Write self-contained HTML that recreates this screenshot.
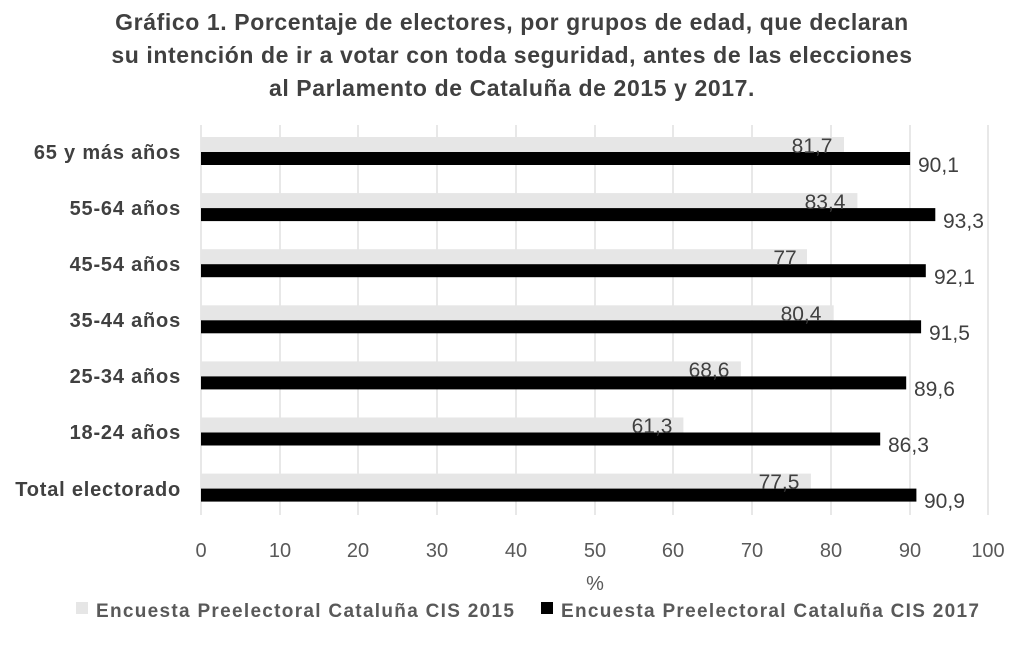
<!DOCTYPE html><html><head><meta charset="utf-8"><style>body{margin:0;background:#fff}svg{display:block}</style></head><body>
<svg width="1024" height="654" xmlns="http://www.w3.org/2000/svg" font-family="Liberation Sans, sans-serif">
<rect width="1024" height="654" fill="#fff"/>
<g font-weight="bold" font-size="23" fill="#404040" text-anchor="middle" letter-spacing="0.6">
<text x="512" y="30">Gráfico 1. Porcentaje de electores, por grupos de edad, que declaran</text>
<text x="512" y="63">su intención de ir a votar con toda seguridad, antes de las elecciones</text>
<text x="512" y="96">al Parlamento de Cataluña de 2015 y 2017.</text>
</g>
<g stroke="#d9d9d9" stroke-width="1.2">
<line x1="201" y1="125" x2="201" y2="515"/><line x1="280" y1="125" x2="280" y2="515"/><line x1="358" y1="125" x2="358" y2="515"/><line x1="437" y1="125" x2="437" y2="515"/><line x1="516" y1="125" x2="516" y2="515"/><line x1="595" y1="125" x2="595" y2="515"/><line x1="673" y1="125" x2="673" y2="515"/><line x1="752" y1="125" x2="752" y2="515"/><line x1="831" y1="125" x2="831" y2="515"/><line x1="910" y1="125" x2="910" y2="515"/><line x1="988" y1="125" x2="988" y2="515"/>
</g>
<g>
<rect x="201" y="137" width="643" height="15" fill="#e6e6e6"/><rect x="201" y="152" width="709.1" height="13" fill="#000"/>
<rect x="201" y="193.1" width="656.4" height="15" fill="#e6e6e6"/><rect x="201" y="208.1" width="734.3" height="13" fill="#000"/>
<rect x="201" y="249.2" width="606" height="15" fill="#e6e6e6"/><rect x="201" y="264.2" width="724.8" height="13" fill="#000"/>
<rect x="201" y="305.3" width="632.7" height="15" fill="#e6e6e6"/><rect x="201" y="320.3" width="720.1" height="13" fill="#000"/>
<rect x="201" y="361.4" width="539.9" height="15" fill="#e6e6e6"/><rect x="201" y="376.4" width="705.2" height="13" fill="#000"/>
<rect x="201" y="417.5" width="482.4" height="15" fill="#e6e6e6"/><rect x="201" y="432.5" width="679.2" height="13" fill="#000"/>
<rect x="201" y="473.6" width="609.9" height="15" fill="#e6e6e6"/><rect x="201" y="488.6" width="715.4" height="13" fill="#000"/>
</g>
<g font-size="21" fill="#404040" text-anchor="middle">
<text x="812" y="153">81,7</text><text x="825" y="209">83,4</text><text x="785" y="265">77</text><text x="801" y="321">80,4</text><text x="709" y="377">68,6</text><text x="652" y="433">61,3</text><text x="779" y="489">77,5</text>
</g>
<g font-size="21" fill="#404040">
<text x="918" y="172">90,1</text><text x="943" y="228">93,3</text><text x="934" y="284">92,1</text><text x="929" y="340">91,5</text><text x="914" y="396">89,6</text><text x="888" y="452">86,3</text><text x="924" y="508">90,9</text>
</g>
<g font-size="20" font-weight="bold" fill="#404040" text-anchor="end" letter-spacing="0.8">
<text x="181" y="159">65 y más años</text><text x="181" y="215">55-64 años</text><text x="181" y="271">45-54 años</text><text x="181" y="327">35-44 años</text><text x="181" y="383">25-34 años</text><text x="181" y="439">18-24 años</text><text x="181" y="496">Total electorado</text>
</g>
<g font-size="20" fill="#595959" text-anchor="middle">
<text x="201" y="557">0</text><text x="280" y="557">10</text><text x="358" y="557">20</text><text x="437" y="557">30</text><text x="516" y="557">40</text><text x="595" y="557">50</text><text x="673" y="557">60</text><text x="752" y="557">70</text><text x="831" y="557">80</text><text x="910" y="557">90</text><text x="988" y="557">100</text>
<text x="595" y="590">%</text>
</g>
<rect x="76" y="602" width="12" height="12" fill="#e6e6e6"/>
<text x="96" y="617" font-size="19" font-weight="bold" fill="#595959" letter-spacing="1.3">Encuesta Preelectoral Cataluña CIS 2015</text>
<rect x="541" y="602" width="12" height="12" fill="#000"/>
<text x="561" y="617" font-size="19" font-weight="bold" fill="#595959" letter-spacing="1.3">Encuesta Preelectoral Cataluña CIS 2017</text>
</svg></body></html>
